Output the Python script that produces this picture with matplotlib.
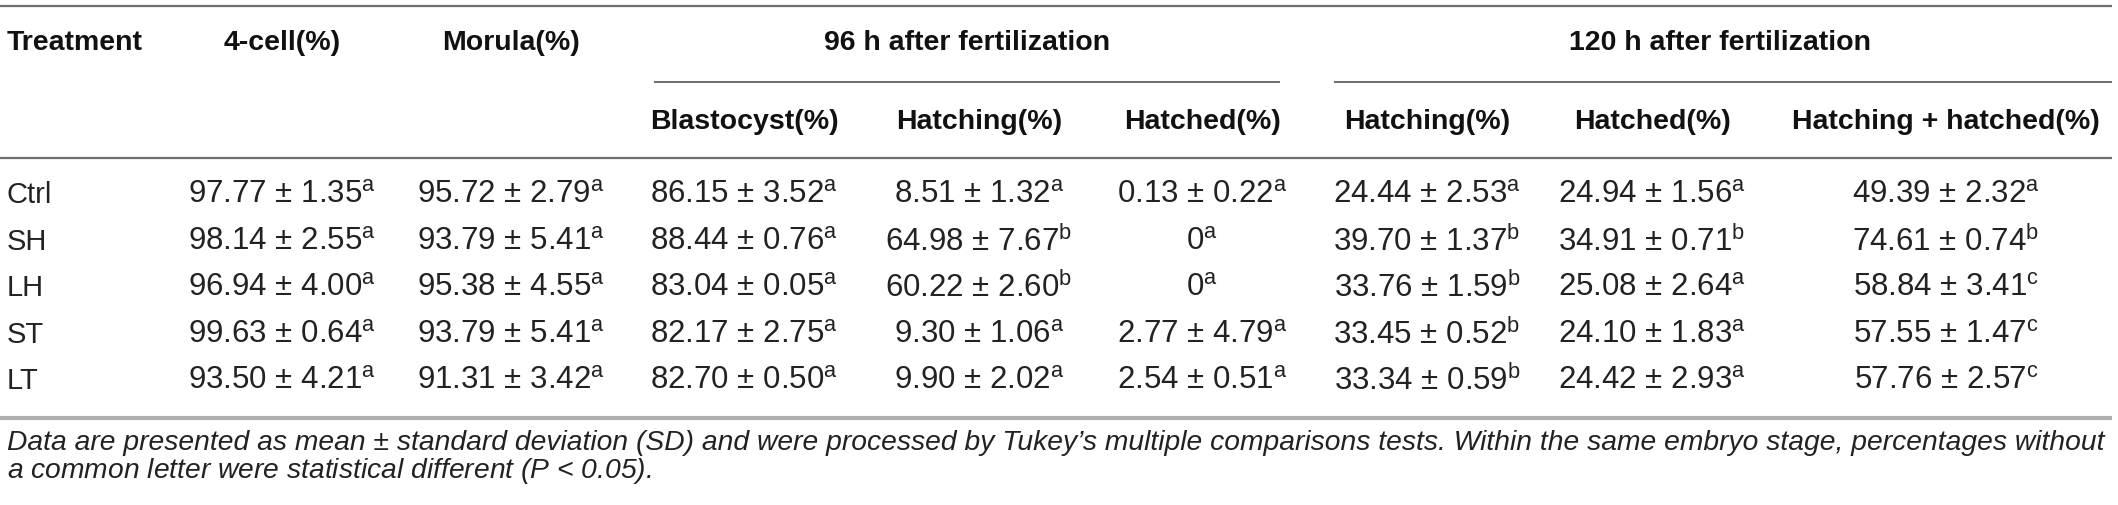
import matplotlib
matplotlib.use("Agg")
import matplotlib.pyplot as plt

plt.rcParams['font.family'] = ['Liberation Sans', 'DejaVu Sans']
plt.rcParams['mathtext.fontset'] = 'custom'
plt.rcParams['mathtext.rm'] = 'Liberation Sans'
plt.rcParams['mathtext.it'] = 'Liberation Sans:italic'
plt.rcParams['mathtext.bf'] = 'Liberation Sans:bold'

# table values
treatments = ['Ctrl', 'SH', 'LH', 'ST', 'LT']

cell4_mean = [97.77, 98.14, 96.94, 99.63, 93.50]
cell4_sd = [1.35, 2.55, 4.00, 0.64, 4.21]
cell4_let = ['a', 'a', 'a', 'a', 'a']

morula_mean = [95.72, 93.79, 95.38, 93.79, 91.31]
morula_sd = [2.79, 5.41, 4.55, 5.41, 3.42]
morula_let = ['a', 'a', 'a', 'a', 'a']

blast_mean = [86.15, 88.44, 83.04, 82.17, 82.70]
blast_sd = [3.52, 0.76, 0.05, 2.75, 0.50]
blast_let = ['a', 'a', 'a', 'a', 'a']

hatching96_mean = [8.51, 64.98, 60.22, 9.30, 9.90]
hatching96_sd = [1.32, 7.67, 2.60, 1.06, 2.02]
hatching96_let = ['a', 'b', 'b', 'a', 'a']

hatched96_mean = [0.13, 0, 0, 2.77, 2.54]
hatched96_sd = [0.22, None, None, 4.79, 0.51]
hatched96_let = ['a', 'a', 'a', 'a', 'a']

hatching120_mean = [24.44, 39.70, 33.76, 33.45, 33.34]
hatching120_sd = [2.53, 1.37, 1.59, 0.52, 0.59]
hatching120_let = ['a', 'b', 'b', 'b', 'b']

hatched120_mean = [24.94, 34.91, 25.08, 24.10, 24.42]
hatched120_sd = [1.56, 0.71, 2.64, 1.83, 2.93]
hatched120_let = ['a', 'b', 'a', 'a', 'a']

total120_mean = [49.39, 74.61, 58.84, 57.55, 57.76]
total120_sd = [2.32, 0.74, 3.41, 1.47, 2.57]
total120_let = ['a', 'b', 'c', 'c', 'c']

top_headers = ['Treatment', '4-cell(%)', 'Morula(%)']
group_headers = ['96 h after fertilization', '120 h after fertilization']
sub_headers = ['Blastocyst(%)', 'Hatching(%)', 'Hatched(%)',
               'Hatching(%)', 'Hatched(%)', 'Hatching + hatched(%)']

footnote1 = ("Data are presented as mean \u00b1 standard deviation (SD) and were processed by "
             "Tukey\u2019s multiple comparisons tests. Within the same embryo stage, percentages without")
footnote2 = "a common letter were statistical different ($\\mathit{P}$ < 0.05)."

columns = [
    (cell4_mean, cell4_sd, cell4_let),
    (morula_mean, morula_sd, morula_let),
    (blast_mean, blast_sd, blast_let),
    (hatching96_mean, hatching96_sd, hatching96_let),
    (hatched96_mean, hatched96_sd, hatched96_let),
    (hatching120_mean, hatching120_sd, hatching120_let),
    (hatched120_mean, hatched120_sd, hatched120_let),
    (total120_mean, total120_sd, total120_let),
]

W, H = 2118, 505
fig = plt.figure(figsize=(W / 100, H / 100), dpi=100)
ax = fig.add_axes([0, 0, 1, 1])
ax.set_xlim(0, W)
ax.set_ylim(H, 0)
ax.axis('off')

# layout
col_x = [282, 511, 744, 979, 1202, 1427, 1652, 1946]
row_y = [195, 242, 288, 335, 381]
fs_head = 20.5
fs_body = 22.5
txt = '#222222'
head = '#111111'

# rules
ax.plot([0, 2112], [6, 6], color='#6e6e6e', lw=1.6, solid_capstyle='butt')
ax.plot([654, 1280], [82, 82], color='#6e6e6e', lw=1.4, solid_capstyle='butt')
ax.plot([1334, 2112], [82, 82], color='#6e6e6e', lw=1.4, solid_capstyle='butt')
ax.plot([0, 2112], [158, 158], color='#6e6e6e', lw=1.6, solid_capstyle='butt')
ax.plot([0, 2112], [418, 418], color='#b0b0b0', lw=3.0, solid_capstyle='butt')

# headers
ax.text(7, 43, top_headers[0], ha='left', va='center', fontsize=fs_head, fontweight='bold', color=head)
for x, h in zip(col_x[:2], top_headers[1:]):
    ax.text(x, 43, h, ha='center', va='center', fontsize=fs_head, fontweight='bold', color=head)
ax.text(967, 43, group_headers[0], ha='center', va='center', fontsize=fs_head, fontweight='bold', color=head)
ax.text(1720, 43, group_headers[1], ha='center', va='center', fontsize=fs_head, fontweight='bold', color=head)
for x, h in zip(col_x[2:], sub_headers):
    ax.text(x, 122, h, ha='center', va='center', fontsize=fs_head, fontweight='bold', color=head)

# body
for y, t in zip(row_y, treatments):
    ax.text(7, y, t, ha='left', va='center', fontsize=21, color=txt)

for x, (means, sds, lets) in zip(col_x, columns):
    for y, m, s, l in zip(row_y, means, sds, lets):
        if s is None:
            label = '%g$^{\\mathrm{%s}}$' % (m, l)
        else:
            label = '%.2f \u00b1 %.2f$^{\\mathrm{%s}}$' % (m, s, l)
        ax.text(x, y, label, ha='center', va='center', fontsize=fs_body, color=txt)

# footnote
ax.text(7, 443, footnote1, ha='left', va='center', fontsize=20.3, style='italic', color=txt)
ax.text(7, 471, footnote2, ha='left', va='center', fontsize=20.3, style='italic', color=txt)

fig.savefig('out.png', dpi=100)
